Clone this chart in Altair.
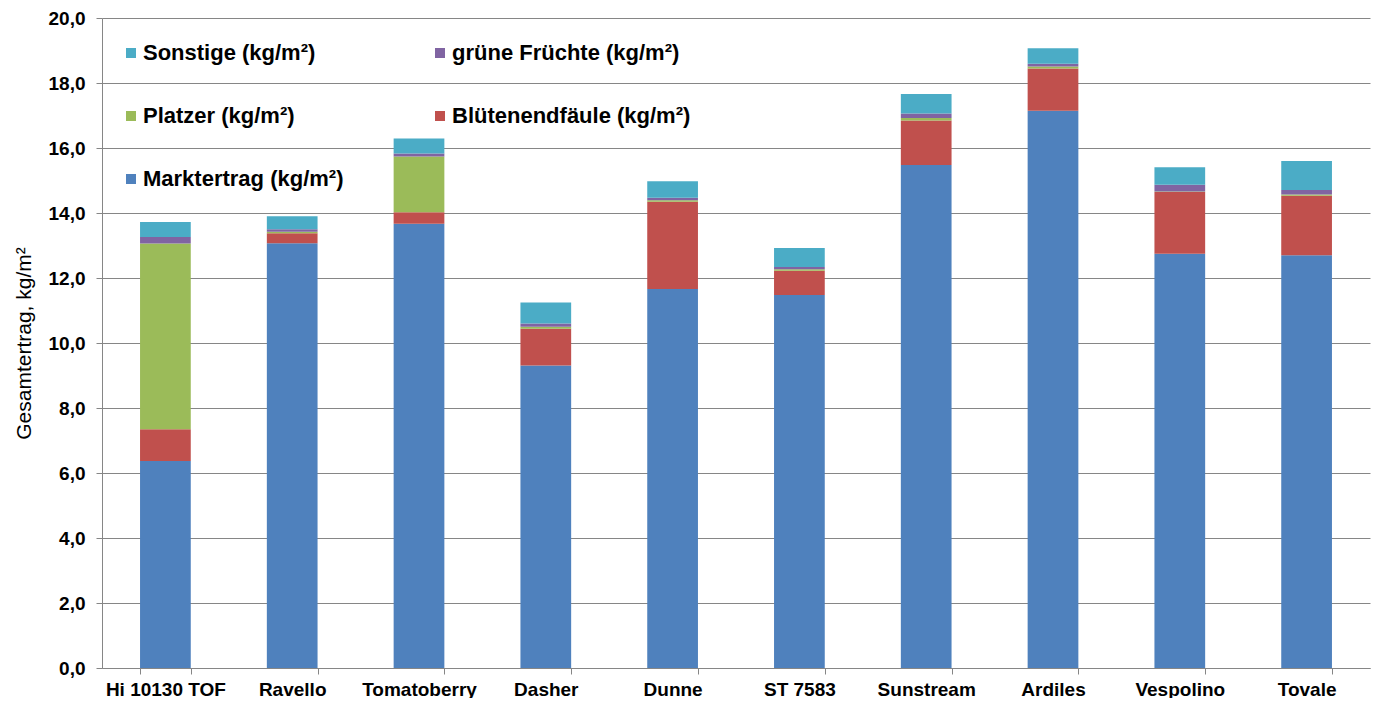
import altair as alt
import pandas as pd

sorten = ["Hi 10130 TOF", "Ravello", "Tomatoberry", "Dasher", "Dunne",
          "ST 7583", "Sunstream", "Ardiles", "Vespolino", "Tovale"]
marktertrag = [6.37, 13.07, 13.67, 9.31, 11.66, 11.48, 15.48, 17.15, 12.75, 12.70]
bluetenendfaeule = [0.98, 0.31, 0.35, 1.13, 2.69, 0.74, 1.37, 1.30, 1.90, 1.83]
platzer = [5.71, 0.04, 1.72, 0.06, 0.04, 0.05, 0.07, 0.06, 0.01, 0.04]
gruene = [0.20, 0.08, 0.09, 0.10, 0.08, 0.07, 0.14, 0.08, 0.21, 0.14]
sonstige = [0.46, 0.40, 0.46, 0.65, 0.51, 0.58, 0.60, 0.48, 0.54, 0.89]

serien = ["Marktertrag (kg/m²)", "Blütenendfäule (kg/m²)", "Platzer (kg/m²)",
          "grüne Früchte (kg/m²)", "Sonstige (kg/m²)"]
farben = ["#4F81BD", "#C0504D", "#9BBB59", "#8064A2", "#4BACC6"]
werte = [marktertrag, bluetenendfaeule, platzer, gruene, sonstige]

rows = []
for si, (name, vals) in enumerate(zip(serien, werte)):
    for sorte, v in zip(sorten, vals):
        rows.append({"Sorte": sorte, "Serie": name, "Wert": v, "ord": si})
df = pd.DataFrame(rows)

legend_order = ["Sonstige (kg/m²)", "grüne Früchte (kg/m²)", "Platzer (kg/m²)",
                "Blütenendfäule (kg/m²)", "Marktertrag (kg/m²)"]
legend_colors = [farben[serien.index(s)] for s in legend_order]

FONT = "Liberation Sans"

chart = alt.Chart(df).mark_bar().encode(
    x=alt.X("Sorte:N", sort=sorten, title=None,
            scale=alt.Scale(paddingInner=0.6, paddingOuter=0.3),
            axis=alt.Axis(labelAngle=0, labelFont=FONT, labelFontSize=19,
                          labelFontWeight="bold", labelColor="black",
                          labelPadding=6, tickBand="extent", tickSize=6,
                          tickColor="#868686", domainColor="#868686",
                          grid=False)),
    y=alt.Y("Wert:Q", title="Gesamtertrag, kg/m²", stack="zero",
            scale=alt.Scale(domain=[0, 20], nice=False),
            axis=alt.Axis(values=[0, 2, 4, 6, 8, 10, 12, 14, 16, 18, 20],
                          labelExpr="replace(format(datum.value, '.1f'), '.', ',')",
                          labelFont=FONT, labelFontSize=19, labelFontWeight="bold",
                          labelColor="black", labelPadding=11, tickSize=6,
                          tickColor="#868686", domainColor="#868686",
                          gridColor="#868686", gridWidth=1,
                          titleFont=FONT, titleFontSize=21, titleFontWeight="normal",
                          titleColor="black", titlePadding=14)),
    color=alt.Color("Serie:N",
                    scale=alt.Scale(domain=legend_order, range=legend_colors),
                    legend=alt.Legend(title=None, orient="none", legendX=18, legendY=24,
                                      columns=2, direction="horizontal",
                                      columnPadding=85, rowPadding=41,
                                      symbolType="square", symbolSize=100,
                                      symbolStrokeWidth=0, labelOffset=1,
                                      labelFont=FONT, labelFontSize=22,
                                      labelFontWeight="bold", labelColor="black",
                                      labelLimit=400, padding=0)),
    order=alt.Order("ord:Q", sort="ascending"),
).properties(
    width=1268, height=650,
    autosize=alt.AutoSizeParams(type="none"),
    padding={"left": 94, "top": 10, "right": 12, "bottom": 30},
).configure_view(stroke=None)

chart.save("out.html", embed_options={"renderer": "svg", "actions": False})
